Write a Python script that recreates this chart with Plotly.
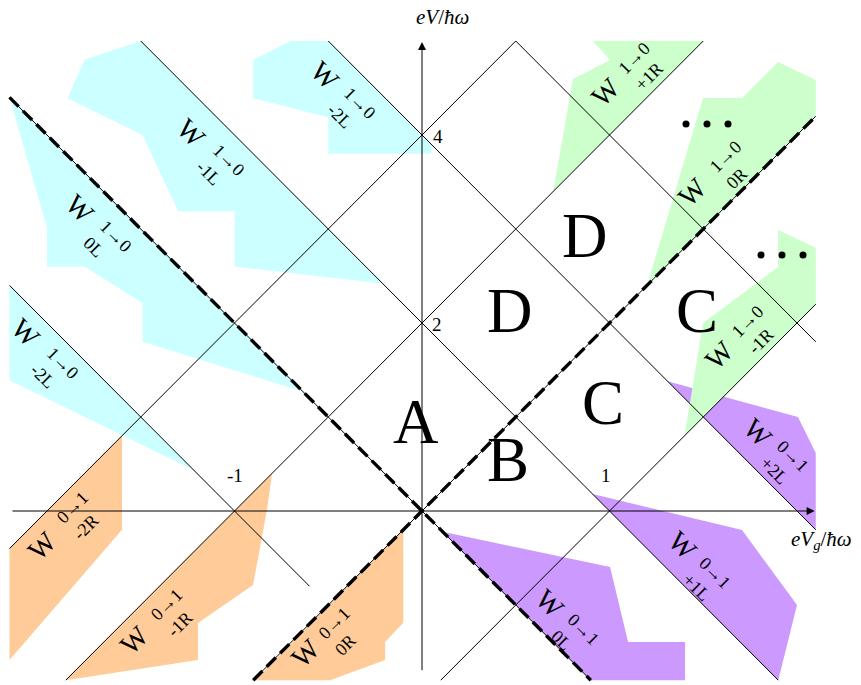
import plotly.graph_objects as go

# ---------------- data (units: eV_g/ħω , eV/ħω) ----------------
# thin solid lines: [x0, y0, x1, y1]
solid_lines = [
    [-2.2, 2.4, -0.6, -0.8],
    [-1.5, 5.0, 1.9, -1.8],
    [-0.5, 5.0, 2.1, -0.2],
    [0.5, 5.0, 2.1, 1.8],
    [-2.2, -0.4, 0.5, 5.0],
    [-1.9, -1.8, 1.5, 5.0],
    [0.1, -1.8, 2.1, 2.2],
]
# thick dashed lines (eV = ±2 eVg)
dashed_lines = [
    [-2.2, 4.4, 0.9, -1.8],
    [-0.9, -1.8, 2.1, 4.2],
]

# shaded regions
cyan_W_m1L_x = [-1.5, -0.21, -1.0, -1.0, -1.3, -1.49, -1.89, -1.8]
cyan_W_m1L_y = [5.0, 2.42, 2.6, 3.19, 3.19, 4.0, 4.39, 4.8]
cyan_W_m2L_top_x = [-0.7, -0.5, 0.05, 0.05, -0.5, -0.5, -0.9, -0.9]
cyan_W_m2L_top_y = [5.0, 5.0, 3.9, 3.8, 3.8, 4.19, 4.39, 4.8]
cyan_W_0L_x = [-2.2, -0.635, -1.49, -1.49, -1.8, -2.0, -2.0]
cyan_W_0L_y = [4.4, 1.27, 1.8, 2.21, 2.6, 2.6, 3.01]
cyan_W_m2L_low_x = [-2.2, -1.22, -2.2]
cyan_W_m2L_low_y = [2.4, 0.44, 1.39]

orange_W_m2R_x = [-2.2, -1.6, -1.6, -2.2]
orange_W_m2R_y = [-0.4, 0.8, -0.2, -1.585]
orange_W_m1R_x = [-1.9, -0.8, -0.827, -0.901, -1.195, -1.195]
orange_W_m1R_y = [-1.8, 0.4, 0.01, -0.787, -1.191, -1.585]
orange_W_0R_x = [-0.89, -0.1, -0.1, -0.197, -0.197, -0.49]
orange_W_0R_y = [-1.8, -0.2, -1.19, -1.394, -1.585, -1.8]

purple_W_0L_x = [0.11, 1.003, 1.099, 1.403, 1.403, 0.9]
purple_W_0L_y = [-0.22, -0.596, -1.394, -1.394, -1.8, -1.8]
purple_W_p1L_x = [0.91, 1.707, 2.0, 1.9]
purple_W_p1L_y = [0.18, -0.202, -1.0, -1.8]
purple_W_p2L_x = [1.31, 2.005, 2.1, 2.1]
purple_W_p2L_y = [1.38, 1.0, 0.617, -0.2]

green_W_p1R_x = [0.912, 1.5, 0.7, 0.805, 1.003]
green_W_p1R_y = [5.0, 5.0, 3.4, 4.596, 4.798]
green_W_0R_x = [1.899, 2.1, 2.1, 1.2, 1.499, 1.707]
green_W_0R_y = [4.777, 4.585, 4.2, 2.4, 4.394, 4.394]
green_W_m1R_x = [1.899, 2.1, 2.1, 1.4, 1.499, 1.899]
green_W_m1R_y = [2.989, 2.8, 2.2, 0.8, 2.0, 2.596]

# W labels: (x_W, y_W, x_scripts, y_scripts, superscript, subscript, angle)
w_labels = [
    (-0.517, 4.638, -0.373, 4.255, "1→0", "-2L", 45),
    (-1.227, 4.021, -1.072, 3.649, "1→0", "-1L", 45),
    (-1.824, 3.223, -1.675, 2.840, "1→0", "0L", 45),
    (-2.117, 1.894, -1.957, 1.489, "1→0", "-2L", 45),
    (0.683, -0.979, 0.816, -1.351, "0→1", "0L", 45),
    (1.390, -0.372, 1.522, -0.745, "0→1", "+1L", 45),
    (1.792, 0.840, 1.936, 0.500, "0→1", "+2L", 45),
    (-2.027, -0.362, -1.819, -0.053, "0→1", "-2R", -45),
    (-1.531, -1.372, -1.317, -1.085, "0→1", "-1R", -45),
    (-0.624, -1.511, -0.427, -1.277, "0→1", "0R", -45),
    (0.976, 4.457, 1.173, 4.734, "1→0", "+1R", -45),
    (1.445, 3.394, 1.664, 3.681, "1→0", "0R", -45),
    (1.589, 1.660, 1.781, 1.926, "1→0", "-1R", -45),
]

# region letters
region_text = ["A", "B", "C", "C", "D", "D"]
region_x = [-0.032, 0.459, 0.965, 1.467, 0.469, 0.869]
region_y = [0.926, 0.521, 1.128, 2.106, 2.106, 2.904]

# tick labels
tick_text = ["-1", "1", "2", "4"]
tick_x = [-0.997, 0.981, 0.08, 0.085]
tick_y = [0.383, 0.383, 1.989, 3.979]

# ellipsis dots
dots_x = [1.408, 1.52, 1.632, 1.808, 1.92, 2.032]
dots_y = [4.117, 4.117, 4.117, 2.723, 2.723, 2.723]

# ---------------- figure ----------------
CYAN = "#ccffff"
GREEN = "#ccffcc"
ORANGE = "#ffcc99"
PURPLE = "#cc99ff"
SERIF = "Liberation Serif, Times New Roman, serif"

fig = go.Figure()

polys = [
    (cyan_W_m1L_x, cyan_W_m1L_y, CYAN),
    (cyan_W_m2L_top_x, cyan_W_m2L_top_y, CYAN),
    (cyan_W_0L_x, cyan_W_0L_y, CYAN),
    (cyan_W_m2L_low_x, cyan_W_m2L_low_y, CYAN),
    (orange_W_m2R_x, orange_W_m2R_y, ORANGE),
    (orange_W_m1R_x, orange_W_m1R_y, ORANGE),
    (orange_W_0R_x, orange_W_0R_y, ORANGE),
    (purple_W_0L_x, purple_W_0L_y, PURPLE),
    (purple_W_p1L_x, purple_W_p1L_y, PURPLE),
    (purple_W_p2L_x, purple_W_p2L_y, PURPLE),
    (green_W_p1R_x, green_W_p1R_y, GREEN),
    (green_W_0R_x, green_W_0R_y, GREEN),
    (green_W_m1R_x, green_W_m1R_y, GREEN),
]
for xs, ys, col in polys:
    fig.add_trace(go.Scatter(x=xs, y=ys, fill="toself", fillcolor=col,
                             mode="none", hoverinfo="skip", showlegend=False))

for x0, y0, x1, y1 in solid_lines + dashed_lines:
    fig.add_trace(go.Scatter(x=[x0, x1], y=[y0, y1], mode="lines",
                             line=dict(color="black", width=1),
                             hoverinfo="skip", showlegend=False))
for x0, y0, x1, y1 in dashed_lines:
    fig.add_trace(go.Scatter(x=[x0, x1], y=[y0, y1], mode="lines",
                             line=dict(color="black", width=3.4, dash="13px,6px"),
                             hoverinfo="skip", showlegend=False))

fig.add_trace(go.Scatter(x=dots_x, y=dots_y, mode="markers",
                         marker=dict(color="black", size=7),
                         hoverinfo="skip", showlegend=False))

annotations = []
# axes with arrows
annotations.append(dict(x=2.094, y=0, ax=-2.2, ay=0, xref="x", yref="y",
                        axref="x", ayref="y", showarrow=True, arrowhead=2,
                        arrowsize=1.6, arrowwidth=1, arrowcolor="black", text=" "))
annotations.append(dict(x=0, y=4.99, ax=0, ay=-1.8, xref="x", yref="y",
                        axref="x", ayref="y", showarrow=True, arrowhead=2,
                        arrowsize=1.6, arrowwidth=1, arrowcolor="black", text=" "))
# axis titles
annotations.append(dict(x=0.107, y=5.255, text="<i>eV</i>/<i>ħω</i>", showarrow=False,
                        font=dict(family=SERIF, size=21, color="black")))
annotations.append(dict(x=2.128, y=-0.309, text="<i>eV<sub>g</sub></i>/<i>ħω</i>",
                        showarrow=False, font=dict(family=SERIF, size=21, color="black")))
# tick labels
for t, x, y in zip(tick_text, tick_x, tick_y):
    annotations.append(dict(x=x, y=y, text=t, showarrow=False,
                            font=dict(family=SERIF, size=19, color="black")))
# region letters
for t, x, y in zip(region_text, region_x, region_y):
    annotations.append(dict(x=x, y=y, text=t, showarrow=False, yshift=2,
                            font=dict(family=SERIF, size=63, color="black")))
# W labels
for xw, yw, xs, ys, sup, sub, ang in w_labels:
    annotations.append(dict(x=xw, y=yw, text="W", showarrow=False, textangle=ang,
                            font=dict(family=SERIF, size=28, color="black")))
    annotations.append(dict(x=xs, y=ys, text=sup + "<br>" + sub, showarrow=False,
                            textangle=ang, align="left",
                            font=dict(family=SERIF, size=18, color="black")))

fig.update_layout(
    width=861, height=685,
    margin=dict(l=0, r=0, t=0, b=0),
    paper_bgcolor="white", plot_bgcolor="white",
    xaxis=dict(range=[-2.2507, 2.3413], visible=False, fixedrange=True),
    yaxis=dict(range=[-1.8511, 5.4362], visible=False, fixedrange=True),
    annotations=annotations,
    showlegend=False,
)

fig.write_html("out.html", config={"displayModeBar": False},
               post_script="document.body.style.margin='0';document.body.style.padding='0';")
